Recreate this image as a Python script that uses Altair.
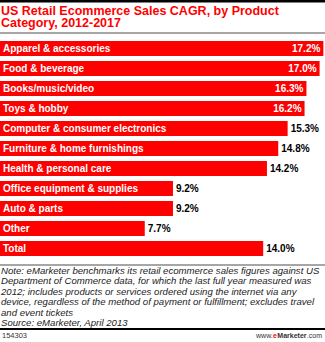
import altair as alt
import pandas as pd

categories = [
    "Apparel & accessories", "Food & beverage", "Books/music/video", "Toys & hobby",
    "Computer & consumer electronics", "Furniture & home furnishings",
    "Health & personal care", "Office equipment & supplies", "Auto & parts",
    "Other", "Total",
]
values = [17.2, 17.0, 16.3, 16.2, 15.3, 14.8, 14.2, 9.2, 9.2, 7.7, 14.0]

title_lines = ["US Retail Ecommerce Sales CAGR, by Product", "Category, 2012-2017"]
note_lines = [
    "Note: eMarketer benchmarks its retail ecommerce sales figures against US",
    "Department of Commerce data, for which the last full year measured was",
    "2012; includes products or services ordered using the internet via any",
    "device, regardless of the method of payment or fulfillment; excludes travel",
    "and event tickets",
    "Source: eMarketer, April 2013",
]
chart_id = "154303"

df = pd.DataFrame({"cat": categories, "value": values})

RED = "#ff0000"
FONT = "Liberation Sans"
TOP = 41

yenc = alt.Y("cat:N", sort=categories, axis=None,
             scale=alt.Scale(paddingInner=0.25, paddingOuter=0))
xscale = alt.Scale(domain=[0, 325 / 18.8], nice=False, zero=True)
xenc = alt.X("value:Q", scale=xscale, axis=None)

base = alt.Chart(df)

bars = base.mark_bar(color=RED).encode(x=xenc, y=yenc)

cat_text = base.mark_text(align="left", baseline="middle", color="white",
                          font=FONT, fontWeight="bold", fontSize=10, dy=0.5).encode(
    x=alt.value(3), y=yenc, text="cat:N")

lab = base.transform_calculate(label="format(datum.value, '.1f') + '%'")
inside = lab.transform_filter("datum.value >= 16").mark_text(
    align="right", baseline="middle", color="white", font=FONT, fontWeight="bold",
    fontSize=10, dx=-3, dy=0.5).encode(x=xenc, y=yenc, text="label:N")
outside = lab.transform_filter("datum.value < 16").mark_text(
    align="left", baseline="middle", color="black", font=FONT, fontWeight="bold",
    fontSize=10, dx=3, dy=0.5).encode(x=xenc, y=yenc, text="label:N")

one = pd.DataFrame({"a": [0]})


def txt(s, x, y, **kw):
    return alt.Chart(one).mark_text(baseline="middle", font=FONT, **kw).encode(
        x=alt.value(x), y=alt.value(y - TOP), text=alt.value(s))


def rule(y, color, w):
    return alt.Chart(one).mark_rule(color=color, strokeWidth=w).encode(
        x=alt.value(0), x2=alt.value(325), y=alt.value(y - TOP))


layers = [bars, cat_text, inside, outside]
layers.append(rule(1, "black", 3))
for i, s in enumerate(title_lines):
    layers.append(txt(s, 1, 10.5 + 12.5 * i, align="left", color=RED, fontSize=12.5, fontWeight="bold"))
layers.append(rule(33, "#888888", 1.5))
layers.append(rule(265, "#888888", 1.5))
for i, s in enumerate(note_lines):
    layers.append(txt(s, 1, 270.5 + 10.5 * i, align="left", color="#222222", fontSize=9.6, fontStyle="italic"))
layers.append(rule(329, "black", 2))
layers.append(txt(chart_id, 2, 335.5, align="left", color="#333333", fontSize=7.5))
layers.append(txt(".com", 322, 335.5, align="right", color="#333333", fontSize=7))
layers.append(txt("Marketer", 306.5, 335.5, align="right", color="#333333", fontSize=7, fontWeight="bold"))
layers.append(txt("e", 277, 335.5, align="right", color=RED, fontSize=7, fontWeight="bold"))
layers.append(txt("www.", 272.8, 335.5, align="right", color="#333333", fontSize=7))

chart = alt.layer(*layers).properties(
    width=325, height=215,
    padding={"left": 0, "right": 0, "top": TOP, "bottom": 86},
    autosize=alt.AutoSizeParams(type="none"),
    background="white",
).configure_view(stroke=None)

chart.save("out.html", embed_options={"renderer": "svg", "actions": False})
